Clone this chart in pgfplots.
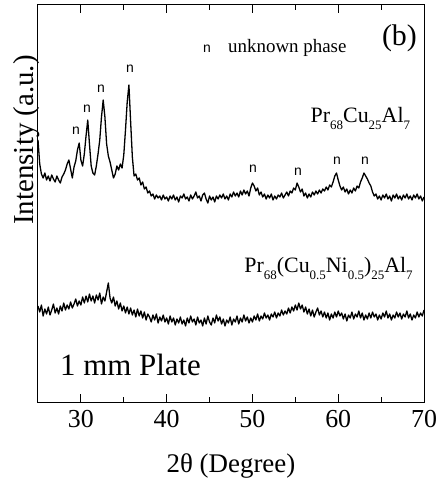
\documentclass[border=0pt]{standalone}
\usepackage{pgfplots}
\pgfplotsset{compat=1.18}
\usepackage{fontspec}
\setmainfont{Liberation Serif}
\newfontfamily\nsans{Liberation Sans}
\newcommand{\sbs}[1]{\raisebox{-7bp}{\fontsize{13}{13}\selectfont #1}}
\newcommand{\nl}{\nsans\fontsize{14}{14}\selectfont n}
\begin{document}
\begin{tikzpicture}
\useasboundingbox (-38bp,-83bp) rectangle (407bp,402bp);
\begin{axis}[
  scale only axis, width=386bp, height=397bp,
  xmin=25, xmax=70, ymin=0, ymax=397,
  clip=false,
  xtick={30,40,50,60,70},
  minor xtick={35,45,55,65},
  ytick=\empty,
  minor ytick={12,38.7,...,390},
  major tick length=8bp, minor tick length=5bp,
  axis line style={line width=1bp},
  tick style={line width=0.8bp, black},
  xticklabel style={font=\fontsize{26}{26}\selectfont, yshift=-5bp},
  /pgf/number format/assume math mode=true,
  every axis plot/.append style={line width=1.3bp, black, line join=round},
]
\addplot[mark=none] table {
25.0 262
25.2 238
25.4 228
25.6 224
25.8 229
26.0 222
26.2 226
26.4 221
26.6 227
26.8 223
27.0 220
27.2 226
27.4 222
27.6 219
27.8 225
28.0 228
28.2 232
28.4 238
28.6 242
28.8 233
29.0 224
29.2 235
29.4 241
29.6 252
29.8 259
30.0 242
30.2 236
30.4 248
30.6 266
30.8 282
31.0 258
31.2 236
31.4 229
31.6 227
31.8 236
32.0 248
32.2 262
32.4 285
32.6 302
32.8 285
33.0 258
33.2 246
33.4 240
33.6 232
33.8 224
34.0 228
34.2 236
34.4 232
34.6 238
34.8 234
35.0 247
35.2 272
35.4 300
35.6 317
35.8 280
36.0 245
36.2 226
36.4 228
36.6 222
36.8 224
37.0 217
37.2 220
37.4 213
37.6 215
37.8 209
38.0 211
38.2 206
38.4 208
38.6 203
38.8 207
39.0 204
39.2 206
39.4 202
39.6 207
39.8 203
40.0 205
40.2 201
40.4 206
40.6 203
40.8 207
41.0 202
41.2 205
41.4 200
41.6 206
41.8 204
42.0 208
42.2 203
42.4 205
42.6 201
42.8 207
43.0 203
43.2 206
43.4 210
43.6 204
43.8 206
44.0 201
44.2 207
44.4 209
44.6 203
44.8 199
45.0 206
45.2 202
45.4 205
45.6 200
45.8 206
46.0 203
46.2 207
46.4 204
46.6 208
46.8 203
47.0 206
47.2 202
47.4 208
47.6 205
47.8 210
48.0 206
48.2 209
48.4 205
48.6 211
48.8 207
49.0 212
49.2 208
49.4 211
49.6 206
49.8 214
50.0 219
50.2 216
50.4 211
50.6 214
50.8 207
51.0 210
51.2 205
51.4 208
51.6 203
51.8 207
52.0 204
52.2 208
52.4 202
52.6 206
52.8 203
53.0 207
53.2 205
53.4 209
53.6 204
53.8 207
54.0 210
54.2 206
54.4 211
54.6 209
54.8 214
55.0 212
55.2 219
55.4 215
55.6 210
55.8 213
56.0 206
56.2 209
56.4 204
56.6 208
56.8 205
57.0 210
57.2 207
57.4 211
57.6 208
57.8 212
58.0 209
58.2 213
58.4 211
58.6 215
58.8 212
59.0 217
59.2 215
59.4 220
59.6 226
59.8 229
60.0 222
60.2 216
60.4 212
60.6 215
60.8 210
61.0 213
61.2 208
61.4 212
61.6 209
61.8 214
62.0 211
62.2 216
62.4 214
62.6 220
62.8 224
63.0 229
63.2 226
63.4 223
63.6 219
63.8 216
64.0 210
64.2 206
64.4 208
64.6 203
64.8 206
65.0 202
65.2 207
65.4 204
65.6 208
65.8 203
66.0 206
66.2 201
66.4 207
66.6 204
66.8 208
67.0 203
67.2 206
67.4 202
67.6 207
67.8 204
68.0 208
68.2 203
68.4 206
68.6 202
68.8 207
69.0 204
69.2 208
69.4 203
69.6 206
69.8 201
70.0 205
};
\addplot[mark=none] table {
25.0 96
25.2 90
25.4 97
25.6 86
25.8 93
26.0 88
26.2 95
26.4 87
26.6 92
26.8 98
27.0 89
27.2 94
27.4 88
27.6 96
27.8 91
28.0 99
28.2 92
28.4 97
28.6 93
28.8 100
29.0 94
29.2 98
29.4 103
29.6 96
29.8 101
30.0 97
30.2 105
30.4 99
30.6 106
30.8 100
31.0 108
31.2 101
31.4 106
31.6 99
31.8 107
32.0 102
32.2 109
32.4 98
32.6 105
32.8 101
33.0 110
33.2 119
33.4 104
33.6 99
33.8 105
34.0 96
34.2 101
34.4 93
34.6 99
34.8 91
35.0 96
35.2 89
35.4 95
35.6 88
35.8 94
36.0 87
36.2 92
36.4 85
36.6 93
36.8 86
37.0 91
37.2 84
37.4 90
37.6 82
37.8 88
38.0 85
38.2 80
38.4 87
38.6 82
38.8 88
39.0 79
39.2 85
39.4 81
39.6 87
39.8 80
40.0 84
40.2 78
40.4 86
40.6 80
40.8 84
41.0 77
41.2 83
41.4 79
41.6 85
41.8 78
42.0 82
42.2 76
42.4 84
42.6 79
42.8 86
43.0 80
43.2 83
43.4 77
43.6 85
43.8 79
44.0 82
44.2 76
44.4 84
44.6 78
44.8 86
45.0 80
45.2 77
45.4 84
45.6 79
45.8 87
46.0 81
46.2 85
46.4 78
46.6 83
46.8 76
47.0 82
47.2 79
47.4 85
47.6 77
47.8 83
48.0 80
48.2 86
48.4 78
48.6 84
48.8 80
49.0 87
49.2 81
49.4 85
49.6 79
49.8 84
50.0 80
50.2 86
50.4 82
50.6 88
50.8 81
51.0 86
51.2 83
51.4 89
51.6 84
51.8 87
52.0 82
52.2 88
52.4 85
52.6 90
52.8 84
53.0 89
53.2 86
53.4 92
53.6 87
53.8 91
54.0 88
54.2 94
54.4 89
54.6 95
54.8 91
55.0 97
55.2 92
55.4 99
55.6 93
55.8 97
56.0 90
56.2 95
56.4 88
56.6 93
56.8 86
57.0 92
57.2 85
57.4 90
57.6 94
57.8 87
58.0 91
58.2 85
58.4 90
58.6 84
58.8 89
59.0 82
59.2 88
59.4 84
59.6 90
59.8 85
60.0 91
60.2 86
60.4 89
60.6 83
60.8 88
61.0 81
61.2 87
61.4 84
61.6 90
61.8 83
62.0 88
62.2 85
62.4 91
62.6 84
62.8 89
63.0 82
63.2 87
63.4 83
63.6 89
63.8 84
64.0 90
64.2 85
64.4 88
64.6 82
64.8 87
65.0 83
65.2 89
65.4 85
65.6 91
65.8 84
66.0 88
66.2 82
66.4 87
66.6 84
66.8 90
67.0 85
67.2 89
67.4 83
67.6 88
67.8 85
68.0 91
68.2 84
68.4 88
68.6 82
68.8 87
69.0 84
69.2 90
69.4 85
69.6 89
69.8 86
70.0 92
};
% peak markers
\node[anchor=center] at (axis cs:29.43,271) {\nl};
\node[anchor=center] at (axis cs:30.71,293) {\nl};
\node[anchor=center] at (axis cs:32.34,313) {\nl};
\node[anchor=center] at (axis cs:35.73,333) {\nl};
\node[anchor=center] at (axis cs:50.06,233) {\nl};
\node[anchor=center] at (axis cs:55.31,230) {\nl};
\node[anchor=center] at (axis cs:59.86,241) {\nl};
\node[anchor=center] at (axis cs:63.12,241) {\nl};
% legend-like note
\node[anchor=base, inner sep=0pt] at (axis cs:44.70,349) {\nl};
\node[anchor=base west, inner sep=0pt] at (axis cs:47.15,349) {\fontsize{19}{19}\selectfont unknown phase};
\node[anchor=center, inner sep=0pt] at (axis cs:67.14,364) {\fontsize{30}{30}\selectfont (b)};
% sample labels
\node[anchor=base east, inner sep=0pt] at (axis cs:68.4,279) {\fontsize{22}{22}\selectfont Pr\sbs{68}Cu\sbs{25}Al\sbs{7}};
\node[anchor=base east, inner sep=0pt] at (axis cs:68.7,129) {\fontsize{22}{22}\selectfont Pr\sbs{68}(Cu\sbs{0.5}Ni\sbs{0.5})\sbs{25}Al\sbs{7}};
\node[anchor=base west, inner sep=0pt] at (axis cs:27.56,27) {\fontsize{31}{31}\selectfont 1 mm Plate};
% axis labels
\node[anchor=base, rotate=90, inner sep=0pt] at (axis cs:24.42,262) {\fontsize{29}{29}\selectfont Intensity (a.u.)};
\node[anchor=center, inner sep=0pt] at (axis cs:47.5,-64) {\fontsize{27}{27}\selectfont 2θ (Degree)};
\end{axis}
\end{tikzpicture}
\end{document}
